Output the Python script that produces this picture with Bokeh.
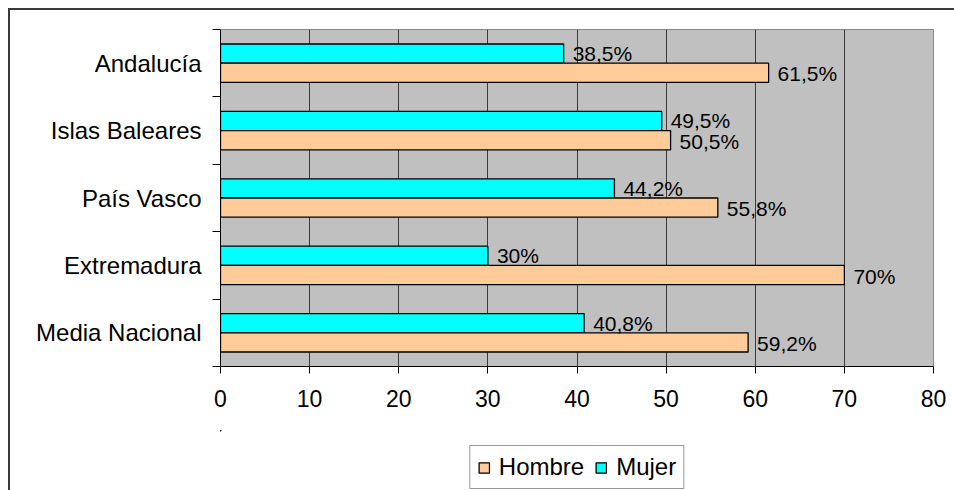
from bokeh.plotting import figure
from bokeh.layouts import column
from bokeh.models import (ColumnDataSource, FactorRange, Range1d, LinearAxis, CategoricalAxis,
                          FixedTicker, Legend, LegendItem)
from bokeh.transform import dodge
from bokeh.core.properties import value
from bokeh.embed import file_html
from bokeh.resources import INLINE

# ---- data ----
categories = ["Andalucía", "Islas Baleares", "País Vasco", "Extremadura", "Media Nacional"]
hombre = [61.5, 50.5, 55.8, 70, 59.2]
mujer = [38.5, 49.5, 44.2, 30, 40.8]
x_ticks = [0, 10, 20, 30, 40, 50, 60, 70, 80]

def fmt(v):
    return ("%g" % v).replace(".", ",") + "%"

src = ColumnDataSource(dict(
    cat=categories,
    hombre=hombre,
    mujer=mujer,
    hombre_lbl=[fmt(v) for v in hombre],
    mujer_lbl=[fmt(v) for v in mujer],
))

FONT = "Liberation Sans"
CYAN = "#00FFFF"
PEACH = "#FFCC99"

p = figure(width=944, height=420,
           y_range=FactorRange(factors=list(reversed(categories))),
           x_range=Range1d(0, 80),
           x_axis_location=None, y_axis_location=None,
           output_backend="svg", toolbar_location=None,
           min_border_left=210, min_border_right=21,
           min_border_top=19, min_border_bottom=64)

p.background_fill_color = "#C0C0C0"
p.border_fill_color = "white"
p.outline_line_color = "#8a8a8a"
p.outline_line_width = 1

# x axis
xax = LinearAxis(ticker=FixedTicker(ticks=x_ticks))
xax.axis_line_color = "black"
xax.major_tick_line_color = "black"
xax.major_tick_out = 7
xax.major_tick_in = 0
xax.minor_tick_line_color = None
xax.major_label_text_font = FONT
xax.major_label_text_font_size = "23px"
xax.major_label_text_color = "black"
xax.major_label_standoff = 16
p.add_layout(xax, "below")

# y axis with ticks at category boundaries (synthetic coordinates 0..5)
yt = LinearAxis(ticker=FixedTicker(ticks=list(range(len(categories) + 1))))
yt.axis_line_color = "black"
yt.major_tick_line_color = "black"
yt.major_tick_out = 8
yt.major_tick_in = 0
yt.minor_tick_line_color = None
yt.major_label_text_font_size = "1px"
yt.major_label_text_color = None
yt.major_label_standoff = 0
p.add_layout(yt, "left")

# category labels
yc = CategoricalAxis()
yc.axis_line_color = None
yc.major_tick_line_color = None
yc.major_tick_out = 0
yc.major_tick_in = 0
yc.major_label_text_font = FONT
yc.major_label_text_font_size = "24px"
yc.major_label_text_color = "black"
yc.major_label_standoff = 11
p.add_layout(yc, "left")

p.xgrid.ticker = FixedTicker(ticks=x_ticks)
p.xgrid.grid_line_color = "#3a3a3a"
p.xgrid.grid_line_width = 1
p.ygrid.grid_line_color = None

H = 0.285
p.hbar(y=dodge("cat", H / 2, range=p.y_range), left=0, right="mujer", height=H,
       source=src, fill_color=CYAN, line_color="black", line_width=1.3)
p.hbar(y=dodge("cat", -H / 2, range=p.y_range), left=0, right="hombre", height=H,
       source=src, fill_color=PEACH, line_color="black", line_width=1.3)

p.text(x="mujer", y=dodge("cat", H / 2, range=p.y_range), text="mujer_lbl", source=src,
       x_offset=9, text_baseline="middle", text_align="left",
       text_font=value(FONT), text_font_size="21px", text_color="black")
p.text(x="hombre", y=dodge("cat", -H / 2, range=p.y_range), text="hombre_lbl", source=src,
       x_offset=9, y_offset=1, text_baseline="middle", text_align="left",
       text_font=value(FONT), text_font_size="21px", text_color="black")

# ---- legend strip below the chart (its bars lie fully outside its view) ----
lf = figure(width=944, height=60,
            y_range=FactorRange(factors=list(reversed(categories))),
            x_range=Range1d(1000, 1010),
            x_axis_location=None, y_axis_location=None,
            output_backend="svg", toolbar_location=None,
            min_border_left=210, min_border_right=21,
            min_border_top=0, min_border_bottom=0)
lf.background_fill_color = "white"
lf.border_fill_color = "white"
lf.outline_line_color = None
lf.xgrid.grid_line_color = None
lf.ygrid.grid_line_color = None
lr_h = lf.hbar(y=dodge("cat", 100, range=lf.y_range), left=0, right="hombre", height=H,
               source=src, fill_color=PEACH, line_color="black", line_width=1.3)
lr_m = lf.hbar(y=dodge("cat", 100, range=lf.y_range), left=0, right="mujer", height=H,
               source=src, fill_color=CYAN, line_color="black", line_width=1.3)

legend = Legend(items=[LegendItem(label="Hombre", renderers=[lr_h]),
                       LegendItem(label="Mujer", renderers=[lr_m])],
                orientation="horizontal", location="bottom")
legend.label_text_font = FONT
legend.label_text_font_size = "24px"
legend.label_text_color = "black"
legend.glyph_width = 13
legend.glyph_height = 13
legend.label_standoff = 9
legend.spacing = 10
legend.padding = 7
legend.margin = 1
legend.border_line_color = "#333333"
legend.border_line_width = 1
legend.background_fill_color = "white"
legend.background_fill_alpha = 1
lf.add_layout(legend, "center")

layout = column(p, lf, spacing=0)
layout.styles = {"margin-left": "8px", "margin-top": "8px",
                 "border-left": "2px solid #3a3a3a", "border-top": "2px solid #3a3a3a"}

open("out.html", "w").write(file_html(layout, INLINE))
